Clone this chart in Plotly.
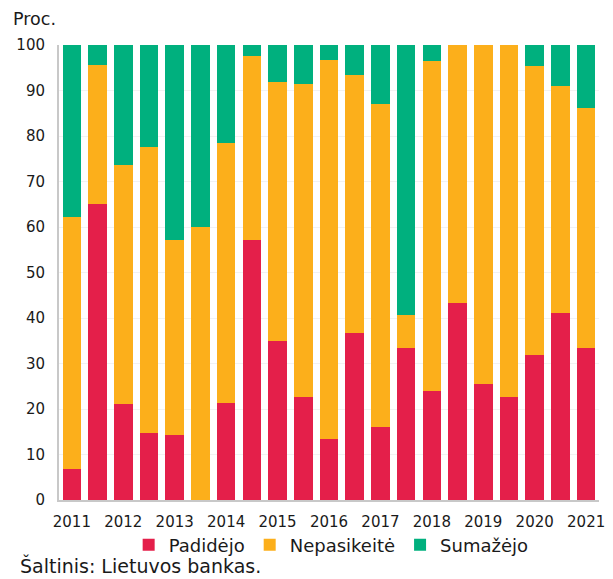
import plotly.graph_objects as go

periods = list(range(21))
tick_idx = [0, 2, 4, 6, 8, 10, 12, 14, 16, 18, 20]
tick_labels = ["2011", "2012", "2013", "2014", "2015", "2016", "2017", "2018", "2019", "2020", "2021"]

padidejo = [6.8, 65.0, 21.0, 14.7, 14.3, 0.0, 21.4, 57.1, 35.0, 22.7, 13.3, 36.6, 16.1, 33.3, 24.0, 43.4, 25.6, 22.7, 31.8, 41.0, 33.3]
nepasikeite = [55.4, 30.6, 52.6, 62.9, 42.8, 60.0, 57.1, 40.5, 56.9, 68.7, 83.3, 56.7, 70.9, 7.4, 72.5, 56.6, 74.4, 77.3, 63.6, 50.0, 52.9]
sumazejo = [37.8, 4.4, 26.4, 22.4, 42.9, 40.0, 21.5, 2.4, 8.1, 8.6, 3.4, 6.7, 13.0, 59.3, 3.5, 0.0, 0.0, 0.0, 4.6, 9.0, 13.8]

RED = "#E41F4A"
ORANGE = "#FCAF1B"
GREEN = "#00B07E"
FONT = "DejaVu Sans, Verdana, sans-serif"
TXT = "#1a1a1a"

fig = go.Figure()
for name, vals, col in [("Padidėjo", padidejo, RED), ("Nepasikeitė", nepasikeite, ORANGE), ("Sumažėjo", sumazejo, GREEN)]:
    fig.add_trace(go.Bar(x=periods, y=vals, name=name, marker=dict(color=col, line=dict(width=0))))

# page has an 8px body margin, so the figure is 8px smaller and shifted
fig.update_layout(
    barmode="stack",
    bargap=0.28,
    width=605, height=571,
    margin=dict(l=50, r=8, t=37, b=79),
    paper_bgcolor="white", plot_bgcolor="white",
    font=dict(family=FONT, size=15, color=TXT),
    showlegend=True,
    legend=dict(orientation="h", x=0.504, xanchor="center", y=-0.099, yanchor="middle",
                font=dict(size=18), itemwidth=30, traceorder="normal"),
    annotations=[
        dict(text="Proc.", xref="paper", yref="paper", x=-0.088, y=1.057, xanchor="left", yanchor="middle",
             showarrow=False, font=dict(size=17.5, family=FONT, color=TXT)),
        dict(text="Šaltinis: Lietuvos bankas.", xref="paper", yref="paper", x=-0.076, y=-0.145, xanchor="left", yanchor="middle",
             showarrow=False, font=dict(size=19, family=FONT, color=TXT)),
    ],
)
fig.update_xaxes(range=[-0.5, 20.5], tickmode="array", tickvals=tick_idx, ticktext=tick_labels,
                 showline=True, linecolor="#c8c8c8", linewidth=2, showgrid=False, ticks="",
                 tickfont=dict(size=15), ticklabelstandoff=7)
fig.update_yaxes(range=[0, 100], tickvals=list(range(0, 101, 10)), showline=True, linecolor="#c8c8c8", linewidth=2,
                 gridcolor="#f2f2f2", gridwidth=1, ticks="", zeroline=False, tickfont=dict(size=15),
                 ticklabelstandoff=9)

fig.write_html("out.html")
